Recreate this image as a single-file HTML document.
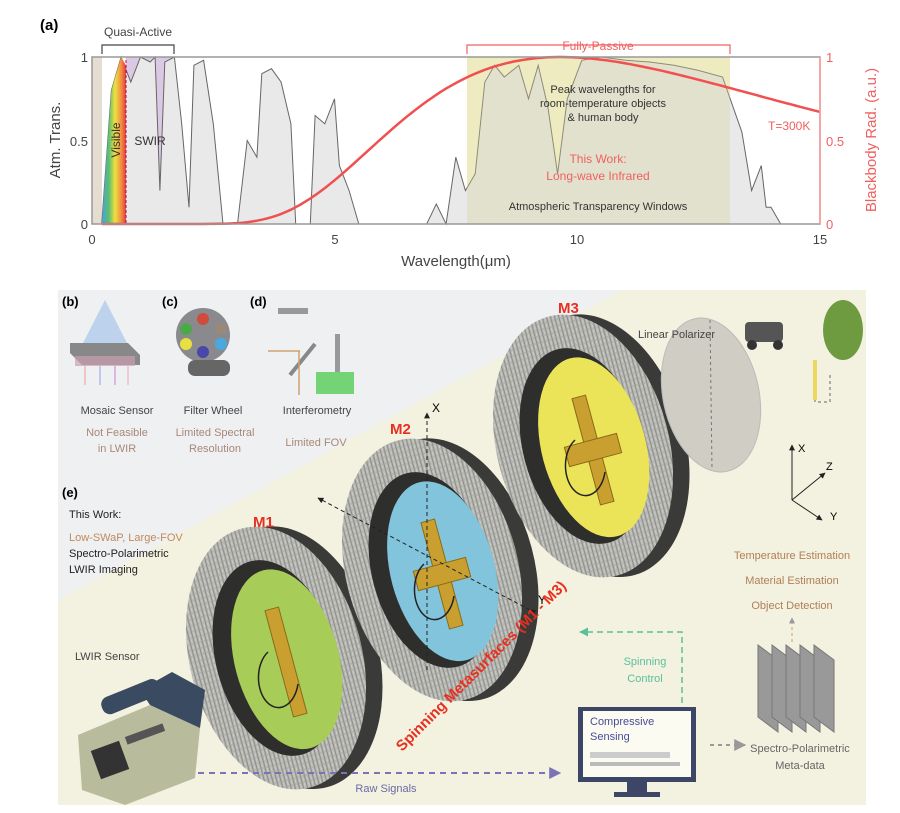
<!DOCTYPE html>
<html><head><meta charset="utf-8"><style>
body{margin:0;background:#fff;width:900px;height:813px;overflow:hidden}
svg{display:block}
text{font-family:"Liberation Sans",sans-serif}
</style></head><body>
<svg id="s" width="900" height="813" viewBox="0 0 900 813" xmlns="http://www.w3.org/2000/svg">
<defs>
<linearGradient id="rb" x1="0" x2="1"><stop offset="0" stop-color="#4aa0d8"/><stop offset=".3" stop-color="#5cbf70"/><stop offset=".55" stop-color="#f0e040"/><stop offset=".8" stop-color="#f09040"/><stop offset="1" stop-color="#e04040"/></linearGradient>
<pattern id="tex" width="4" height="6" patternUnits="userSpaceOnUse"><rect width="4" height="6" fill="#b4b4b0"/><line x1="1" y1="0" x2="1" y2="6" stroke="#85857f" stroke-width=".8"/><line x1="3" y1="0" x2="3" y2="4" stroke="#d2d2ce" stroke-width=".8"/></pattern>
<marker id="ah" viewBox="0 0 10 10" refX="9" refY="5" markerWidth="6" markerHeight="6" orient="auto"><path d="M0 0L10 5L0 10z" fill="#222"/></marker>
<marker id="ahp" viewBox="0 0 10 10" refX="9" refY="5" markerWidth="6" markerHeight="6" orient="auto"><path d="M0 0L10 5L0 10z" fill="#7b72b8"/></marker>
<marker id="ahg" viewBox="0 0 10 10" refX="9" refY="5" markerWidth="6" markerHeight="6" orient="auto"><path d="M0 0L10 5L0 10z" fill="#5cbf9a"/></marker>
<marker id="ahy" viewBox="0 0 10 10" refX="9" refY="5" markerWidth="6" markerHeight="6" orient="auto"><path d="M0 0L10 5L0 10z" fill="#999"/></marker>
</defs>

<text x="40" y="30" font-size="15" font-weight="bold">(a)</text>
<rect x="467" y="57" width="263" height="167" fill="#fbf8d6"/>
<rect x="92" y="57" width="10" height="167" fill="#e4ddd0"/>
<rect x="126" y="57" width="48" height="167" fill="#dbc9e3"/>
<path id="trans" fill="#e8e9e8" stroke="#666" stroke-width="1"/>
<path id="vis" fill="url(#rb)"/>
<line x1="126" y1="60" x2="126" y2="224" stroke="#c04" stroke-dasharray="3,2" stroke-width="1"/>
<rect x="467" y="57" width="263" height="167" fill="#d8d49a" opacity=".35"/>
<path id="bb" fill="none" stroke="#f05050" stroke-width="2.5"/>
<rect x="92" y="57" width="728" height="167" fill="none" stroke="#999" stroke-width="1.5"/>
<line x1="820" y1="57" x2="820" y2="224" stroke="#f99" stroke-width="1.5"/>
<g font-size="13" fill="#444">
<text x="88" y="62" text-anchor="end">1</text><text x="88" y="146" text-anchor="end">0.5</text><text x="88" y="229" text-anchor="end">0</text>
<text x="92" y="244" text-anchor="middle">0</text><text x="335" y="244" text-anchor="middle">5</text><text x="577" y="244" text-anchor="middle">10</text><text x="820" y="244" text-anchor="middle">15</text>
<text x="456" y="266" text-anchor="middle" font-size="15">Wavelength(μm)</text>
<text transform="translate(60,140) rotate(-90)" text-anchor="middle" font-size="15">Atm. Trans.</text>
</g>
<g font-size="13" fill="#f06060">
<text x="826" y="62">1</text><text x="826" y="146">0.5</text><text x="826" y="229">0</text>
<text transform="translate(876,140) rotate(-90)" text-anchor="middle" font-size="15">Blackbody Rad. (a.u.)</text>
<text x="768" y="130" font-size="12">T=300K</text>
<text x="598" y="50" text-anchor="middle" font-size="12">Fully-Passive</text>
<text x="598" y="163" text-anchor="middle" font-size="12">This Work:</text>
<text x="598" y="180" text-anchor="middle" font-size="12">Long-wave Infrared</text>
</g>
<path d="M467 54V45H730V54" fill="none" stroke="#f06060" stroke-width="1.2"/>
<path d="M102 54V45H174V54" fill="none" stroke="#444" stroke-width="1.2"/>
<text x="138" y="36" text-anchor="middle" font-size="12" fill="#444">Quasi-Active</text>
<text x="150" y="145" text-anchor="middle" font-size="12" fill="#333">SWIR</text>
<text transform="translate(120,140) rotate(-90)" text-anchor="middle" font-size="12" fill="#333">Visible</text>
<g font-size="11" fill="#333" text-anchor="middle"><text x="603" y="93">Peak wavelengths  for</text><text x="603" y="107">room-temperature objects</text><text x="603" y="121">&amp; human body</text><text x="598" y="210">Atmospheric Transparency Windows</text></g>

<rect x="58" y="290" width="808" height="515" fill="#f3f1df"/>
<polygon points="58,290 622,290 58,600" fill="#eff0f2"/>
<g font-size="13" font-weight="bold"><text x="62" y="306">(b)</text><text x="162" y="306">(c)</text><text x="250" y="306">(d)</text><text x="62" y="497">(e)</text></g>
<polygon points="105,300 82,345 128,345" fill="#a8c4ea" opacity=".7"/>
<polygon points="70,343 128,343 140,355 140,365 82,365 70,353" fill="#888"/>
<rect x="75" y="356" width="60" height="10" fill="#c9a0b0" opacity=".7"/>
<g stroke-width="2" opacity=".4"><line x1="85" y1="366" x2="85" y2="385" stroke="#e88"/><line x1="100" y1="366" x2="100" y2="385" stroke="#88e"/><line x1="115" y1="366" x2="115" y2="385" stroke="#b6c"/><line x1="128" y1="366" x2="128" y2="385" stroke="#e9a"/></g>
<circle cx="203" cy="335" r="27" fill="#8a8a8e"/>
<circle cx="203" cy="319" r="6" fill="#d04b3b"/><circle cx="221" cy="329" r="6" fill="#9a8878"/><circle cx="221" cy="344" r="6" fill="#4aa8e0"/><circle cx="203" cy="352" r="6" fill="#4848a8"/><circle cx="186" cy="344" r="6" fill="#e8e040"/><circle cx="186" cy="329" r="6" fill="#4aaa4a"/>
<rect x="188" y="360" width="42" height="16" rx="7" fill="#666"/>
<rect x="278" y="308" width="30" height="6" fill="#999"/>
<line x1="290" y1="375" x2="315" y2="344" stroke="#888" stroke-width="4"/>
<rect x="335" y="334" width="5" height="38" fill="#999"/>
<line x1="268" y1="351" x2="300" y2="351" stroke="#d0a070" stroke-width="1.5"/>
<line x1="299" y1="351" x2="299" y2="395" stroke="#d0a070" stroke-width="1.5"/>
<rect x="316" y="372" width="38" height="22" fill="#5c5" opacity=".8"/>
<g font-size="11" fill="#444" text-anchor="middle">
<text x="117" y="414">Mosaic Sensor</text><text x="213" y="414">Filter Wheel</text><text x="317" y="414">Interferometry</text></g>
<g font-size="11" fill="#a88878" text-anchor="middle"><text x="117" y="436">Not Feasible</text><text x="117" y="452">in LWIR</text><text x="215" y="436">Limited Spectral</text><text x="215" y="452">Resolution</text><text x="316" y="446">Limited FOV</text></g>
<g font-size="11"><text x="69" y="518" fill="#222">This Work:</text><text x="69" y="541" fill="#c08a5c">Low-SWaP, Large-FOV</text><text x="69" y="557" fill="#222">Spectro-Polarimetric</text><text x="69" y="573" fill="#222">LWIR Imaging</text></g>

<g id="rings"></g>
<g font-size="15" font-weight="bold" fill="#e83020"><text x="253" y="527">M1</text><text x="390" y="434">M2</text><text x="558" y="313">M3</text></g>
<line x1="427" y1="670" x2="427" y2="413" stroke="#222" stroke-dasharray="4,3" marker-end="url(#ah)"/>
<line x1="530" y1="610" x2="318" y2="498" stroke="#222" stroke-dasharray="4,3" marker-start="url(#ah)" marker-end="url(#ah)"/>
<text x="432" y="412" font-size="12">X</text><text x="538" y="604" font-size="12">Y</text>
<text transform="translate(402,752) rotate(-45)" font-size="15" font-weight="bold" fill="#e83020">Spinning Metasurfaces (M1 - M3)</text>

<ellipse cx="711" cy="395" rx="48" ry="78" transform="rotate(-12 711 395)" fill="#cfcdc4" stroke="#bbb"/>
<line x1="710" y1="320" x2="712" y2="470" stroke="#777" stroke-dasharray="3,3"/>
<text x="638" y="338" font-size="11" fill="#444">Linear Polarizer</text>
<rect x="745" y="322" width="38" height="20" rx="4" fill="#555"/><circle cx="752" cy="345" r="5" fill="#333"/><circle cx="778" cy="345" r="5" fill="#333"/>
<ellipse cx="843" cy="330" rx="20" ry="30" fill="#6e9a40"/>
<path d="M815 375V402H830V375" fill="none" stroke="#666" stroke-dasharray="3,3"/>
<line x1="815" y1="360" x2="815" y2="400" stroke="#ecd860" stroke-width="4"/>
<line x1="792" y1="500" x2="792" y2="445" stroke="#222" marker-end="url(#ah)"/>
<line x1="792" y1="500" x2="825" y2="473" stroke="#222" marker-end="url(#ah)"/>
<line x1="792" y1="500" x2="822" y2="520" stroke="#222" marker-end="url(#ah)"/>
<text x="798" y="452" font-size="11">X</text><text x="826" y="470" font-size="11">Z</text><text x="830" y="520" font-size="11">Y</text>
<g font-size="11" fill="#b08058" text-anchor="middle"><text x="792" y="559">Temperature Estimation</text><text x="792" y="584">Material Estimation</text><text x="792" y="609">Object Detection</text></g>
<line x1="792" y1="642" x2="792" y2="618" stroke="#d0a060" stroke-dasharray="3,3" marker-end="url(#ahy)"/>
<g fill="#999" stroke="#777"><polygon points="758,645 778,660 778,732 758,717"/><polygon points="772,645 792,660 792,732 772,717"/><polygon points="786,645 806,660 806,732 786,717"/><polygon points="800,645 820,660 820,732 800,717"/><polygon points="814,645 834,660 834,732 814,717"/></g>
<g font-size="11" fill="#666" text-anchor="middle"><text x="800" y="752">Spectro-Polarimetric</text><text x="800" y="769">Meta-data</text></g>
<rect x="578" y="707" width="118" height="75" fill="#3e4668"/>
<rect x="583" y="711" width="108" height="66" fill="#fcfbf2"/>
<rect x="627" y="782" width="20" height="12" fill="#3e4668"/><rect x="614" y="792" width="46" height="5" fill="#3e4668"/>
<text x="590" y="725" font-size="11" fill="#4a4a9a">Compressive</text><text x="590" y="740" font-size="11" fill="#4a4a9a">Sensing</text>
<rect x="590" y="752" width="80" height="6" fill="#ccc"/><rect x="590" y="762" width="90" height="4" fill="#bbb"/>
<line x1="710" y1="745" x2="745" y2="745" stroke="#999" stroke-width="2" stroke-dasharray="4,4" marker-end="url(#ahy)"/>
<path d="M682 703V632H580" fill="none" stroke="#5cbf9a" stroke-width="1.5" stroke-dasharray="6,4" marker-end="url(#ahg)"/>
<g font-size="11" fill="#5cbf9a" text-anchor="middle"><text x="645" y="665">Spinning</text><text x="645" y="682">Control</text></g>
<line x1="198" y1="773" x2="560" y2="773" stroke="#7b72b8" stroke-width="2" stroke-dasharray="6,5" marker-end="url(#ahp)"/>
<text x="386" y="792" font-size="11" fill="#6a6aa8" text-anchor="middle">Raw Signals</text>
<text x="75" y="660" font-size="11" fill="#444">LWIR Sensor</text>
<polygon points="78,735 150,705 200,728 195,778 125,805 82,790" fill="#b8bc9c"/>
<polygon points="150,705 200,728 205,690 172,672 140,690" fill="#3a4a60"/>
<rect x="100" y="688" width="62" height="18" rx="8" fill="#3a4a60" transform="rotate(-22 130 697)"/>
<rect x="95" y="745" width="30" height="30" fill="#333" transform="rotate(-20 110 760)"/>
<rect x="125" y="730" width="40" height="8" fill="#555" transform="rotate(-20 145 734)"/>
</svg>
<script>
function X(l){return 92+48.5*l}function Y(v){return 224-167*v}
var T=[[0.2,0],[0.4,0.8],[0.6,1],[0.8,0.85],[1.0,1],[1.2,0.97],[1.3,1],[1.4,0.2],[1.5,0.97],[1.7,1],[1.85,0.6],[2.0,0.1],[2.1,0.95],[2.3,0.98],[2.5,0.6],[2.7,0],[3.0,0],[3.2,0.5],[3.4,0.4],[3.5,0.9],[3.7,0.93],[3.9,0.85],[4.1,0.6],[4.2,0],[4.5,0],[4.6,0.65],[4.8,0.6],[5.0,0.75],[5.1,0.35],[5.3,0.2],[5.5,0],[6.9,0],[7.1,0.12],[7.3,0],[7.5,0.4],[7.7,0.2],[7.9,0.3],[8.1,0.85],[8.3,0.95],[8.5,0.88],[8.8,0.95],[9.0,0.75],[9.2,0.95],[9.4,0.7],[9.6,0.3],[9.8,0.75],[10.1,0.98],[10.5,1],[11,0.98],[11.5,0.97],[12,0.95],[12.5,0.92],[13,0.88],[13.4,0.55],[13.6,0.2],[13.8,0.35],[13.9,0.1],[14.0,0.1],[14.2,0],[15,0]];
var d="M"+X(0)+" "+Y(0);T.forEach(function(p){d+="L"+X(p[0]).toFixed(1)+" "+Y(p[1]).toFixed(1)});d+="Z";
document.getElementById("trans").setAttribute("d",d);
document.getElementById("vis").setAttribute("d","M"+X(0.2)+" "+Y(0)+"L"+X(0.4)+" "+Y(0.8)+"L"+X(0.6)+" "+Y(1)+"L"+X(0.7)+" "+Y(0.95)+"L"+X(0.7)+" "+Y(0)+"Z");
function P(l){return Math.pow(l,-5)/(Math.exp(47.96/l)-1)}var m=P(9.66),b="";
for(var l=0.2;l<=15.001;l+=0.1){b+=(b?"L":"M")+X(l).toFixed(1)+" "+Y(P(l)/m).toFixed(1)}
document.getElementById("bb").setAttribute("d",b);
var R=[[276,658,"#a8cc58",1],[432,570,"#82c4dc",2],[583,446,"#ece458",3]],g="";
R.forEach(function(r){var cx=r[0],cy=r[1],t="rotate(-15 "+cx+" "+cy+")";
g+='<ellipse cx="'+(cx+16)+'" cy="'+(cy+4)+'" rx="86" ry="134" transform="'+t+'" fill="#3a3a38"/>';
g+='<ellipse cx="'+cx+'" cy="'+cy+'" rx="86" ry="134" transform="'+t+'" fill="url(#tex)"/>';
g+='<ellipse cx="'+cx+'" cy="'+cy+'" rx="60" ry="100" transform="'+t+'" fill="#2e2e2c"/>';
g+='<ellipse cx="'+(cx+10)+'" cy="'+(cy+4)+'" rx="52" ry="92" transform="'+t+'" fill="'+r[2]+'"/>';
var gx=cx+10,gy=cy+4;
g+='<rect x="'+(gx-7)+'" y="'+(gy-55)+'" width="14" height="110" fill="#c9a030" stroke="#8a6a18" transform="rotate(-15 '+gx+' '+gy+')"/>';
if(r[3]>1)g+='<rect x="'+(gx-27)+'" y="'+(gy-10)+'" width="54" height="20" fill="#c9a030" stroke="#8a6a18" transform="rotate(-15 '+gx+' '+gy+')"/>';
g+='<path d="M'+(gx-18)+' '+(gy-10)+'A20 30 0 1 0 '+(gx+12)+' '+(gy+22)+'" fill="none" stroke="#222" stroke-width="1.5"/>';
});
document.getElementById("rings").innerHTML=g;
</script>
</body></html>
